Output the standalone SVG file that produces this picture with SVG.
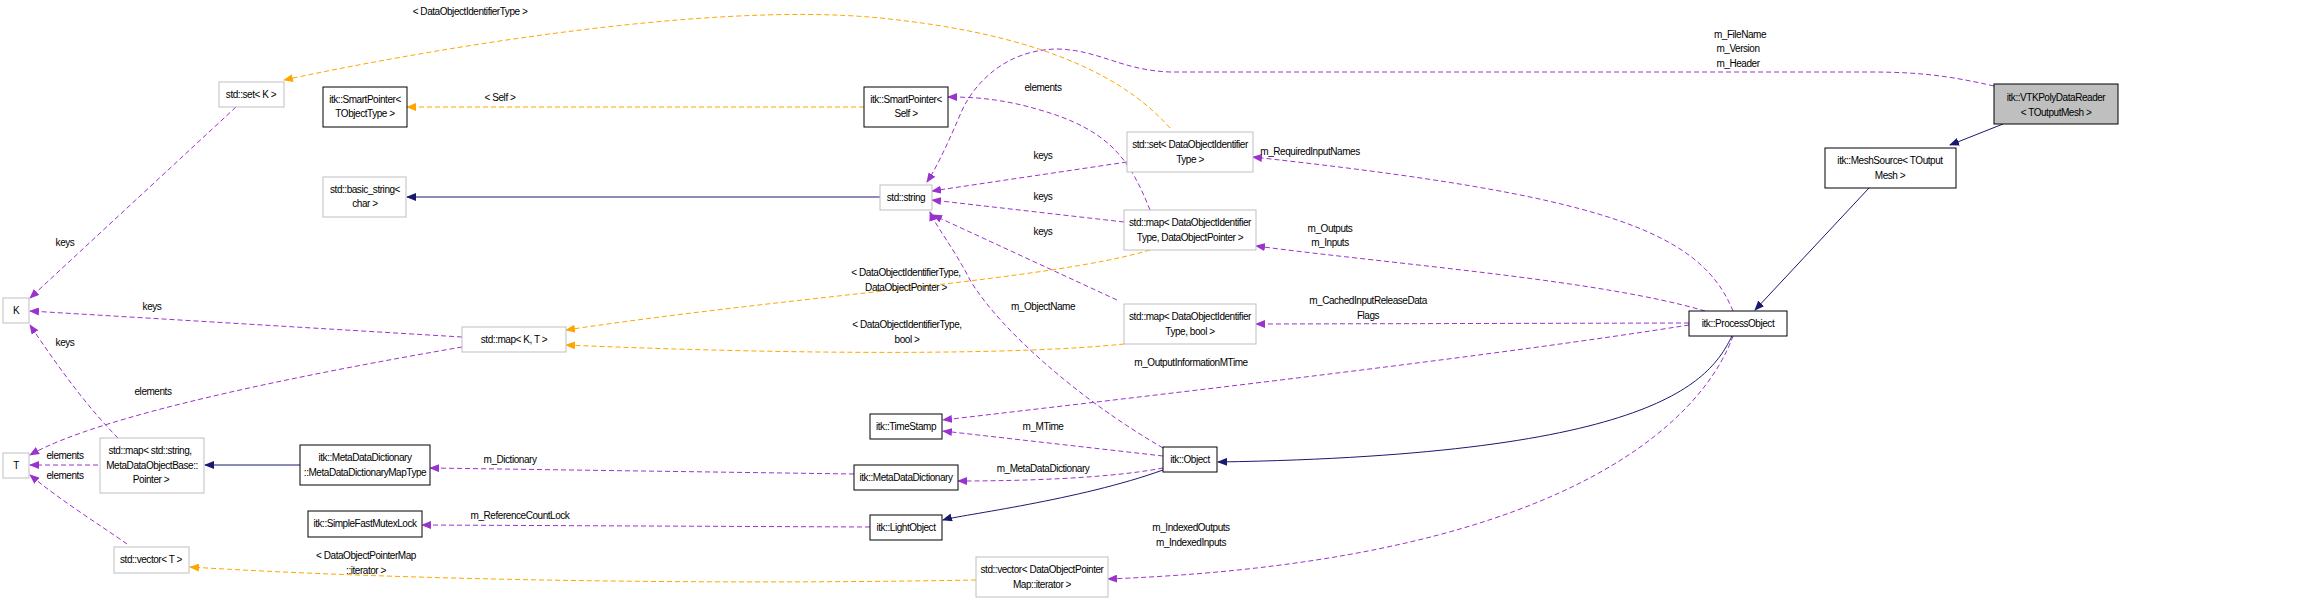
<svg xmlns="http://www.w3.org/2000/svg" width="2301" height="603" viewBox="0 0 2301 603">
<style>
text{font-family:"Liberation Sans",Arial,sans-serif;font-size:10px;letter-spacing:-0.45px;fill:#000;text-anchor:middle}
.n rect{fill:#fff;stroke:#000;stroke-width:1}
.g rect{fill:#fff;stroke:#bfbfbf;stroke-width:1}
.c path{fill:none}
.inh{stroke:#191970;stroke-width:1}
.use{stroke:#9a32cd;stroke-width:1;stroke-dasharray:5,3}
.tpl{stroke:#ffa500;stroke-width:1;stroke-dasharray:5,3}
</style>
<defs>
<marker id="ai" markerWidth="10" markerHeight="8" refX="9" refY="4" orient="auto" markerUnits="userSpaceOnUse"><path d="M0,0 L10,4 L0,8z" fill="#191970"/></marker>
<marker id="au" markerWidth="10" markerHeight="8" refX="9" refY="4" orient="auto" markerUnits="userSpaceOnUse"><path d="M0,0 L10,4 L0,8z" fill="#9a32cd"/></marker>
<marker id="at" markerWidth="10" markerHeight="8" refX="9" refY="4" orient="auto" markerUnits="userSpaceOnUse"><path d="M0,0 L10,4 L0,8z" fill="#ffa500"/></marker>
</defs>
<rect width="2301" height="603" fill="#fff"/>
<g id="connectors" class="c">
<path class="inh" marker-end="url(#ai)" d="M2003,124 L1950,145"/>
<path class="inh" marker-end="url(#ai)" d="M1869,188 L1755,310"/>
<path class="inh" marker-end="url(#ai)" d="M1732,336 C1710,380 1660,455 1218,462"/>
<path class="inh" marker-end="url(#ai)" d="M1163,470 C1080,500 960,515 943,520"/>
<path class="inh" marker-end="url(#ai)" d="M300,465 L205,465"/>
<path class="inh" marker-end="url(#ai)" d="M880,197 L407,197"/>
<path class="tpl" marker-end="url(#at)" d="M864,107 L407,107"/>
<path class="tpl" marker-end="url(#at)" d="M1170,128 C1110,60 1000,30 880,18 C700,0 400,55 284,80"/>
<path class="use" marker-end="url(#au)" d="M1994,86 C1950,76 1920,72 1870,72 L1170,72 C1120,70 1100,50 1057,49 C1000,50 970,90 960,115 C945,150 935,170 927,182"/>
<path class="use" marker-end="url(#au)" d="M1150,210 C1130,160 1110,130 1040,110 C1000,98 970,97 948,97"/>
<path class="use" marker-end="url(#au)" d="M1127,162 L932,191"/>
<path class="use" marker-end="url(#au)" d="M1124,222 L932,200"/>
<path class="use" marker-end="url(#au)" d="M1117,300 L933,215"/>
<path class="use" marker-end="url(#au)" d="M1163,448 C1080,400 1000,330 970,280 C955,250 935,225 930,212"/>
<path class="tpl" marker-end="url(#at)" d="M1150,250 C1050,280 800,295 566,330"/>
<path class="tpl" marker-end="url(#at)" d="M1124,344 C1020,355 800,355 566,345"/>
<path class="use" marker-end="url(#au)" d="M462,337 L30,311"/>
<path class="use" marker-end="url(#au)" d="M462,347 C300,375 100,415 30,455"/>
<path class="use" marker-end="url(#au)" d="M236,107 L30,298"/>
<path class="use" marker-end="url(#au)" d="M118,438 C90,410 60,370 30,325"/>
<path class="use" marker-end="url(#au)" d="M98,465 L30,465"/>
<path class="use" marker-end="url(#au)" d="M127,544 C100,525 60,500 30,475"/>
<path class="tpl" marker-end="url(#at)" d="M976,580 C700,585 400,580 190,567"/>
<path class="use" marker-end="url(#au)" d="M854,474 L430,468"/>
<path class="use" marker-end="url(#au)" d="M870,527 L422,525"/>
<path class="use" marker-end="url(#au)" d="M1689,325 C1500,355 1200,390 943,420"/>
<path class="use" marker-end="url(#au)" d="M1163,456 L943,431"/>
<path class="use" marker-end="url(#au)" d="M1163,468 C1100,480 1000,481 958,481"/>
<path class="use" marker-end="url(#au)" d="M1733,336 C1710,400 1600,560 1108,579"/>
<path class="use" marker-end="url(#au)" d="M1733,311 C1700,230 1600,195 1253,157"/>
<path class="use" marker-end="url(#au)" d="M1705,311 C1600,280 1400,265 1256,246"/>
<path class="use" marker-end="url(#au)" d="M1689,323 L1256,324"/>
</g>
<g id="labels">
<text x="500" y="101">&lt; Self &gt;</text>
<text x="470" y="15">&lt; DataObjectIdentifierType &gt;</text>
<text x="1740" y="38">m_FileName</text><text x="1738" y="52">m_Version</text><text x="1738" y="67">m_Header</text>
<text x="1043" y="91">elements</text>
<text x="1043" y="159">keys</text>
<text x="1043" y="200">keys</text>
<text x="1043" y="235">keys</text>
<text x="1043" y="310">m_ObjectName</text>
<text x="906" y="276">&lt; DataObjectIdentifierType,</text><text x="906" y="291">DataObjectPointer &gt;</text>
<text x="907" y="328">&lt; DataObjectIdentifierType,</text><text x="907" y="343">bool &gt;</text>
<text x="152" y="310">keys</text>
<text x="153" y="395">elements</text>
<text x="65" y="246">keys</text>
<text x="65" y="346">keys</text>
<text x="65" y="459">elements</text>
<text x="65" y="479">elements</text>
<text x="366" y="559">&lt; DataObjectPointerMap</text><text x="366" y="574">::iterator &gt;</text>
<text x="510" y="463">m_Dictionary</text>
<text x="520" y="519">m_ReferenceCountLock</text>
<text x="1191" y="366">m_OutputInformationMTime</text>
<text x="1043" y="430">m_MTime</text>
<text x="1043" y="472">m_MetaDataDictionary</text>
<text x="1191" y="531">m_IndexedOutputs</text><text x="1191" y="546">m_IndexedInputs</text>
<text x="1310" y="155">m_RequiredInputNames</text>
<text x="1330" y="232">m_Outputs</text><text x="1330" y="246">m_Inputs</text>
<text x="1368" y="304">m_CachedInputReleaseData</text><text x="1368" y="319">Flags</text>
</g>
<g id="vtk" class="n"><rect x="1994" y="84" width="124" height="40" style="fill:#bfbfbf"/><text x="2056" y="101">itk::VTKPolyDataReader</text><text x="2056" y="116">&lt; TOutputMesh &gt;</text></g>
<g id="meshsource" class="n"><rect x="1825" y="148" width="131" height="40"/><text x="1890" y="164">itk::MeshSource&lt; TOutput</text><text x="1890" y="179">Mesh &gt;</text></g>
<g id="processobject" class="n"><rect x="1689" y="311" width="98" height="25"/><text x="1738" y="327">itk::ProcessObject</text></g>
<g id="setK" class="g"><rect x="219" y="82" width="65" height="25"/><text x="251" y="98">std::set&lt; K &gt;</text></g>
<g id="smartT" class="n"><rect x="323" y="87" width="84" height="40"/><text x="365" y="103">itk::SmartPointer&lt;</text><text x="365" y="117">TObjectType &gt;</text></g>
<g id="basicstring" class="g"><rect x="323" y="177" width="83" height="40"/><text x="365" y="193">std::basic_string&lt;</text><text x="365" y="207">char &gt;</text></g>
<g id="K" class="g"><rect x="3" y="298" width="26" height="25"/><text x="16" y="314">K</text></g>
<g id="T" class="g"><rect x="3" y="453" width="26" height="25"/><text x="16" y="469">T</text></g>
<g id="mapMeta" class="g"><rect x="100" y="438" width="104" height="55"/><text x="150" y="454">std::map&lt; std::string,</text><text x="152" y="469">MetaDataObjectBase::</text><text x="151" y="483">Pointer &gt;</text></g>
<g id="mapType" class="n"><rect x="300" y="445" width="130" height="40"/><text x="365" y="461">itk::MetaDataDictionary</text><text x="365" y="476">::MetaDataDictionaryMapType</text></g>
<g id="mutex" class="n"><rect x="308" y="511" width="114" height="26"/><text x="365" y="527">itk::SimpleFastMutexLock</text></g>
<g id="vectorT" class="g"><rect x="114" y="547" width="75" height="26"/><text x="151" y="563">std::vector&lt; T &gt;</text></g>
<g id="mapKT" class="g"><rect x="462" y="327" width="104" height="25"/><text x="514" y="343">std::map&lt; K, T &gt;</text></g>
<g id="smartSelf" class="n"><rect x="864" y="87" width="84" height="40"/><text x="906" y="103">itk::SmartPointer&lt;</text><text x="906" y="117">Self &gt;</text></g>
<g id="string" class="g"><rect x="880" y="185" width="52" height="25"/><text x="906" y="201">std::string</text></g>
<g id="setDOIT" class="g"><rect x="1127" y="132" width="126" height="40"/><text x="1190" y="148">std::set&lt; DataObjectIdentifier</text><text x="1190" y="163">Type &gt;</text></g>
<g id="mapDOP" class="g"><rect x="1124" y="210" width="132" height="40"/><text x="1190" y="226">std::map&lt; DataObjectIdentifier</text><text x="1190" y="241">Type, DataObjectPointer &gt;</text></g>
<g id="mapBool" class="g"><rect x="1124" y="304" width="132" height="40"/><text x="1190" y="320">std::map&lt; DataObjectIdentifier</text><text x="1190" y="335">Type, bool &gt;</text></g>
<g id="timestamp" class="n"><rect x="870" y="414" width="72" height="25"/><text x="906" y="430">itk::TimeStamp</text></g>
<g id="metadict" class="n"><rect x="854" y="465" width="104" height="25"/><text x="906" y="481">itk::MetaDataDictionary</text></g>
<g id="object" class="n"><rect x="1163" y="447" width="54" height="25"/><text x="1190" y="463">itk::Object</text></g>
<g id="lightobject" class="n"><rect x="870" y="515" width="72" height="25"/><text x="906" y="531">itk::LightObject</text></g>
<g id="vectorIter" class="g"><rect x="976" y="557" width="132" height="40"/><text x="1042" y="573">std::vector&lt; DataObjectPointer</text><text x="1042" y="588">Map::iterator &gt;</text></g>
</svg>
